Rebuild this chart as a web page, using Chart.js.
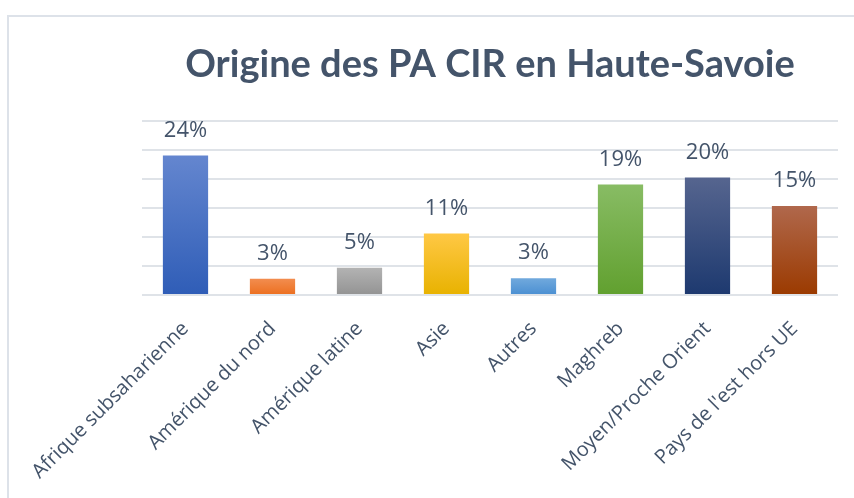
<!DOCTYPE html>
<html>
<head>
  <meta charset="utf-8">
  <title>Origine des PA CIR en Haute-Savoie</title>
  <script src="https://cdn.jsdelivr.net/npm/chart.js"></script>
  <style>
    body { margin: 0; background: #fff; }
    #frame { position: absolute; left: 7px; top: 15px; width: 847px; height: 483px;
             border-left: 2px solid #dde2e9; border-top: 2px solid #dde2e9; }
    #wrap { position: absolute; left: 0; top: 0; width: 854px; height: 498px; }
  </style>
</head>
<body>
  <div id="frame"></div>
  <div id="wrap"><canvas id="myChart"></canvas></div>

  <script>
    const categories = ['Afrique subsaharienne', 'Amérique du nord', 'Amérique latine', 'Asie',
                        'Autres', 'Maghreb', 'Moyen/Proche Orient', "Pays de l'est hors UE"];
    const values = [24.0, 2.8, 4.7, 10.6, 2.9, 19.0, 20.2, 15.3];
    // couleurs haut / bas du dégradé
    const topColors = ['#6486cf', '#f28d4f', '#b3b3b3', '#ffc845', '#71a9dd', '#88bc64', '#56658f', '#b0684c'];
    const bottomColors = ['#2f5db7', '#ec6f1f', '#939393', '#e8b200', '#4a8fd2', '#61a02f', '#1d396f', '#9b3a00'];

    const textColor = '#44546a';

    // étiquettes de données au-dessus des barres
    const valueLabels = {
      id: 'valueLabels',
      afterDatasetsDraw(chart) {
        const ctx = chart.ctx;
        const meta = chart.getDatasetMeta(0);
        ctx.save();
        ctx.font = '22px "Open Sans"';
        ctx.fillStyle = textColor;
        ctx.textAlign = 'center';
        ctx.textBaseline = 'middle';
        meta.data.forEach((bar, i) => {
          ctx.fillText(Math.round(values[i]) + '%', bar.x, bar.y - 25);
        });
        ctx.restore();
      }
    };

    const config = {
      type: 'bar',
      data: {
        labels: categories,
        datasets: [{
          data: values,
          backgroundColor: (c) => {
            const chart = c.chart;
            if (!chart.chartArea || c.type !== 'data') return topColors[c.dataIndex] || '#999';
            const y = chart.scales.y;
            const g = chart.ctx.createLinearGradient(0, y.getPixelForValue(c.parsed.y), 0, y.getPixelForValue(0));
            g.addColorStop(0, topColors[c.dataIndex]);
            g.addColorStop(1, bottomColors[c.dataIndex]);
            return g;
          },
          borderWidth: 0,
          categoryPercentage: 1,
          barPercentage: 0.52,
        }],
      },
      options: {
        responsive: true,
        maintainAspectRatio: false,
        animation: false,
        layout: { padding: { top: 25, right: 16, bottom: 0, left: 0 } },
        scales: {
          x: {
            grid: { display: false },
            border: { display: false },
            ticks: {
              color: textColor,
              font: { family: '"Open Sans"', size: 20 },
              minRotation: 45,
              maxRotation: 45,
              padding: 14,
              autoSkip: false,
            },
            afterFit: (s) => { s.height = 203; },
          },
          y: {
            min: 0,
            max: 30,
            grid: { color: '#dfe3e8', lineWidth: 2, drawTicks: false },
            border: { display: false },
            ticks: { display: false, stepSize: 5 },
            afterFit: (s) => { s.width = 142; },
          },
        },
        plugins: {
          legend: { display: false },
          tooltip: { enabled: false },
          title: {
            display: true,
            text: 'Origine des PA CIR en Haute-Savoie',
            color: textColor,
            fullSize: false,
            font: { family: 'Lato', size: 38, weight: 'bold' },
            padding: { top: 17, bottom: 33 },
          },
        },
      },
      plugins: [valueLabels],
    };

    var myChart = new Chart(document.getElementById('myChart'), config);
  </script>
</body>
</html>
